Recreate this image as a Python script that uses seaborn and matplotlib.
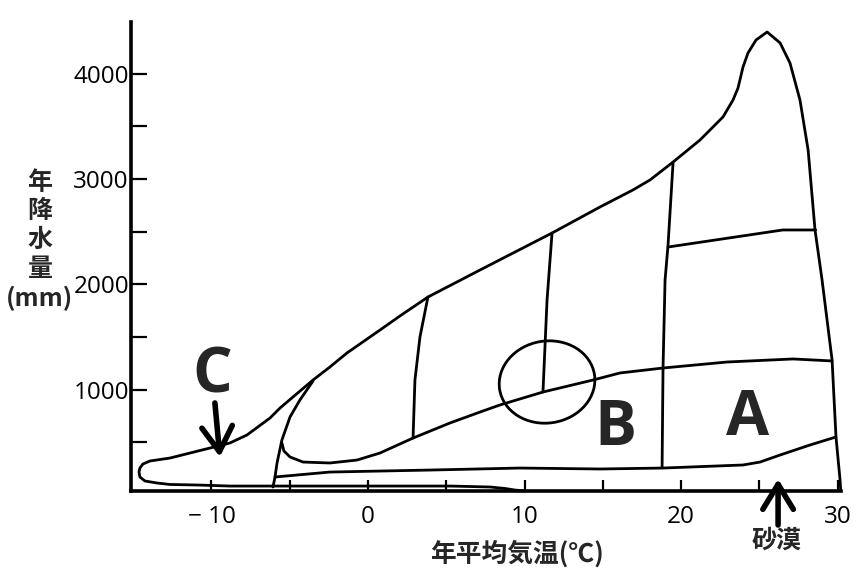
import matplotlib
matplotlib.use("Agg")
import matplotlib.pyplot as plt
from matplotlib.patches import Ellipse
from matplotlib.transforms import ScaledTranslation
import seaborn as sns
import pandas as pd

# ---------------- data (temperature °C, precipitation mm) ----------------
outer_T = [10.03, 9.39, 8.75, 7.80, 5.24, 0.13, -4.35, -8.82, -10.93, -12.65, -13.48,
           -14.25, -14.57, -14.63, -14.57, -14.38, -13.93, -12.65, -10.10, -8.82, -7.73,
           -6.26, -5.62, -4.79, -3.51, -2.43, -1.34, 0.77, 2.04, 3.83, 7.16, 11.76,
           14.82, 16.93, 18.02, 19.49, 21.21, 22.68, 23.32, 23.64, 23.96, 24.28, 24.79, 25.50,
           26.33, 26.96, 27.60, 28.12, 28.56, 29.01, 29.65, 29.90, 30.16, 30.20]
outer_P = [38, 47, 62, 76, 85, 85, 85, 85, 95, 100, 114,
           133, 171, 218, 256, 294, 323, 351, 446, 494, 570,
           731, 826, 931, 1092, 1216, 1349, 1567, 1700, 1880, 2137, 2488,
           2735, 2897, 2992, 3162, 3371, 3590, 3751, 3865, 4065, 4198, 4321, 4397,
           4293, 4103, 3751, 3276, 2517, 2042, 1282, 551, 142, 47]

taiga_T = [-6.07, -5.94, -5.81, -5.50, -4.98, -4.35, -3.51]
taiga_P = [76, 171, 304, 522, 741, 902, 1083]

inner_T = [-5.50, -5.37, -4.98, -4.15, -2.43, -0.70, 0.77, 2.88, 5.24, 7.16, 8.43,
           11.18, 14.38, 16.10, 18.85, 22.94, 27.16, 29.65]
inner_P = [494, 418, 361, 313, 304, 332, 399, 541, 684, 788, 855,
           978, 1092, 1159, 1206, 1263, 1292, 1273]

desert_T = [-5.94, -2.43, 3.96, 9.71, 14.82, 18.85, 23.96, 25.05, 26.33, 28.24, 29.90]
desert_P = [171, 218, 237, 256, 247, 256, 285, 313, 380, 475, 551]

v1_T = [3.83, 3.32, 3.00, 2.88]
v1_P = [1880, 1500, 1092, 541]
v2_T = [11.76, 11.44, 11.18]
v2_P = [2488, 1852, 978]
v3_T = [19.49, 19.17, 18.98, 18.85, 18.79]
v3_P = [3153, 2374, 2042, 1206, 266]
h_T = [19.17, 26.5, 28.6]
h_P = [2355, 2517, 2517]

circle_center = (11.44, 1073)

x_ticks = [-10, 0, 10, 20, 30]
x_labels = ["\u2212 10", "0", "10", "20", "30"]
x_minor = [-5, 5, 15, 25]
y_ticks = [1000, 2000, 3000, 4000]
y_labels = ["1000", "2000", "3000", "4000"]
y_minor = [500, 1500, 2500, 3500]

# ---------------- style ----------------
sns.set_theme(style="ticks")
plt.rcParams["font.family"] = ["Open Sans", "Noto Sans CJK JP", "DejaVu Sans"]
plt.rcParams["axes.linewidth"] = 2.6
CJK = ["Noto Sans CJK JP", "DejaVu Sans"]

W, H = 860, 580
fig = plt.figure(figsize=(8.6, 5.8), dpi=100)
ax = fig.add_axes([131 / W, (H - 491) / H, (841 - 131) / W, (491 - 22) / H])
ax.set_facecolor("white")
fig.patch.set_facecolor("white")

lw = 2.0
for xs, ys in [(outer_T, outer_P), (taiga_T, taiga_P), (inner_T, inner_P),
               (desert_T, desert_P), (v1_T, v1_P), (v2_T, v2_P), (v3_T, v3_P),
               (h_T, h_P)]:
    df = pd.DataFrame({"T": xs, "P": ys})
    sns.lineplot(data=df, x="T", y="P", ax=ax, color="black", lw=lw,
                 sort=False, estimator=None, clip_on=False)

# circle marker (ellipse drawn in display inches, centred on data point)
ell = Ellipse((0, 0), 0.96, 0.82, angle=9, fill=False, lw=lw, ec="black",
              transform=fig.dpi_scale_trans + ScaledTranslation(
                  circle_center[0], circle_center[1], ax.transData))
ax.add_patch(ell)

ax.set_xlim(-15.14, 30.22)
ax.set_ylim(38, 4492)
sns.despine(ax=ax)

ax.set_xticks(x_ticks)
ax.set_xticklabels(x_labels)
ax.set_xticks(x_minor, minor=True)
ax.set_yticks(y_ticks)
ax.set_yticklabels(y_labels)
ax.set_yticks(y_minor, minor=True)
ax.tick_params(axis="y", which="both", direction="in", length=11.5, width=1.6,
               labelsize=17.5, pad=1.5, color="black", labelcolor="black")
ax.tick_params(axis="x", which="both", direction="in", length=8, width=1.6,
               labelsize=17.5, pad=10, color="black", labelcolor="black")
ax.set_xlabel("")
ax.set_ylabel("")
for s in ["left", "bottom"]:
    ax.spines[s].set_color("black")

# labels
fig.text(40 / W, 1 - 241 / H, "年\n降\n水\n量\n(mm)", ha="center", va="center",
         fontsize=18, fontweight="bold", linespacing=1.25, family=CJK)
fig.text(517 / W, 1 - 554 / H, "年平均気温(℃)", ha="center", va="center",
         fontsize=18.5, fontweight="bold", family=CJK)

# region letters
ax.text(-9.97, 969, "C", ha="center", va="baseline", fontsize=45, fontweight="bold",
        family=["Open Sans", "DejaVu Sans"])
ax.text(15.78, 475, "B", ha="center", va="baseline", fontsize=45, fontweight="bold",
        family=["Open Sans", "DejaVu Sans"])
ax.text(24.28, 570, "A", ha="center", va="baseline", fontsize=45, fontweight="bold",
        family=["Open Sans", "DejaVu Sans"])

arrow_style = dict(arrowstyle="->,head_length=0.9,head_width=0.55", lw=4,
                   color="black", mutation_scale=20, shrinkA=0, shrinkB=0)
ax.annotate("", xy=(-9.46, 361), xytext=(-9.78, 874), arrowprops=arrow_style)
ax.annotate("", xy=(26.2, 152), xytext=(26.2, -285), arrowprops=arrow_style,
            annotation_clip=False)
ax.text(26.13, -437, "砂漠", ha="center", va="center", fontsize=18,
        fontweight="bold", family=CJK, clip_on=False)

fig.savefig("out.png", dpi=100, facecolor="white")
